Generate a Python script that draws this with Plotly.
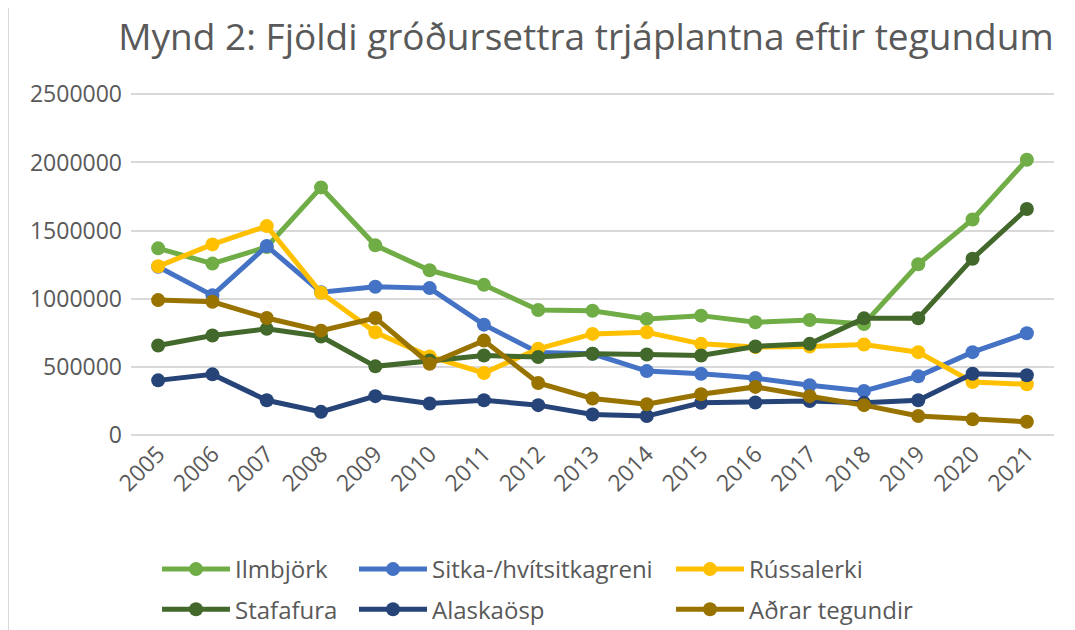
import plotly.graph_objects as go

years = [str(y) for y in range(2005, 2022)]

ilmbjork = [1370000, 1258000, 1380000, 1817000, 1392000, 1209000, 1102000, 917000, 912000,
            852000, 876000, 827000, 844000, 815000, 1253000, 1582000, 2020000]
sitka = [1235000, 1025000, 1387000, 1048000, 1088000, 1078000, 810000, 605000, 596000,
         469000, 450000, 418000, 365000, 323000, 431000, 608000, 747000]
russalerki = [1238000, 1399000, 1533000, 1044000, 754000, 577000, 455000, 633000, 742000,
              754000, 669000, 645000, 650000, 664000, 608000, 389000, 372000]
stafafura = [657000, 730000, 779000, 723000, 504000, 547000, 584000, 572000, 596000,
             591000, 584000, 650000, 669000, 856000, 857000, 1294000, 1659000]
alaskaosp = [401000, 445000, 255000, 170000, 285000, 231000, 255000, 219000, 151000,
             139000, 236000, 239000, 250000, 236000, 255000, 450000, 438000]
adrar = [990000, 978000, 859000, 766000, 859000, 523000, 693000, 382000, 268000,
         226000, 299000, 353000, 285000, 219000, 139000, 115000, 97000]

series = [
    ("Ilmbjörk", ilmbjork, "#70AD47", "legend"),
    ("Sitka-/hvítsitkagreni", sitka, "#4472C4", "legend2"),
    ("Rússalerki", russalerki, "#FFC000", "legend3"),
    ("Stafafura", stafafura, "#43682B", "legend"),
    ("Alaskaösp", alaskaosp, "#264478", "legend2"),
    ("Aðrar tegundir", adrar, "#997300", "legend3"),
]

W, H = 1075, 630
OFF = 8  # page offset of the figure inside the browser window
# target screen positions of the plot area
PL, PR, PT, PB = 131, 1054, 93, 435
L = PL - OFF
T = PT - OFF
R = W - (PR - OFF)
B = H - (PB - OFF)

fig = go.Figure()
for name, vals, col, lg in series:
    fig.add_trace(go.Scatter(
        x=years, y=vals, name=name, mode="lines+markers",
        line=dict(color=col, width=5),
        marker=dict(color=col, size=14),
        legend=lg, legendgroup=name,
    ))

font_main = "Open Sans, Liberation Sans, sans-serif"
txt_col = "#595959"

def leg(xpx, ypx):
    return dict(
        x=(xpx - OFF) / W, y=1 - (ypx - OFF) / H, xref="container", yref="container",
        xanchor="left", yanchor="top", orientation="v",
        font=dict(family=font_main, size=24, color=txt_col),
        itemwidth=68, tracegroupgap=6, bgcolor="rgba(0,0,0,0)",
        traceorder="grouped",
    )

def px_to_paper_x(px):
    return (px - OFF - L) / (W - L - R)

fig.update_layout(
    width=W, height=H,
    margin=dict(l=L, r=R, t=T, b=B, autoexpand=False),
    paper_bgcolor="white", plot_bgcolor="white",
    title=dict(
        text="Mynd 2: Fjöldi gróðursettra trjáplantna eftir tegundum",
        x=(586 - OFF) / W, xanchor="center", xref="container",
        y=1 - (37 - OFF) / H, yanchor="middle", yref="container",
        font=dict(family=font_main, size=37, color=txt_col),
    ),
    legend=leg(157, 547),
    legend2=leg(354, 547),
    legend3=leg(671, 547),
    xaxis=dict(
        type="category", range=[-0.5, 16.5], tickangle=-45,
        showgrid=False, showline=False, ticks="",
        tickfont=dict(family=font_main, size=23, color=txt_col),
    ),
    yaxis=dict(
        range=[0, 2510000], tickvals=[0, 500000, 1000000, 1500000, 2000000, 2500000],
        tickformat="d",
        showgrid=True, gridcolor="#D9D9D9", gridwidth=1.5,
        zeroline=True, zerolinecolor="#D9D9D9", zerolinewidth=1.5,
        showline=False, ticks="", ticklabelstandoff=8,
        tickfont=dict(family=font_main, size=23, color=txt_col),
    ),
    shapes=[
        dict(type="line", xref="paper", yref="paper",
             x0=px_to_paper_x(8.5), x1=px_to_paper_x(8.5),
             y0=-2, y1=2, line=dict(color="#D9D9D9", width=1)),
        dict(type="line", xref="paper", yref="paper",
             x0=px_to_paper_x(1073), x1=px_to_paper_x(1073),
             y0=-2, y1=2, line=dict(color="#D9D9D9", width=1)),
    ],
)

fig.write_html("out.html")
